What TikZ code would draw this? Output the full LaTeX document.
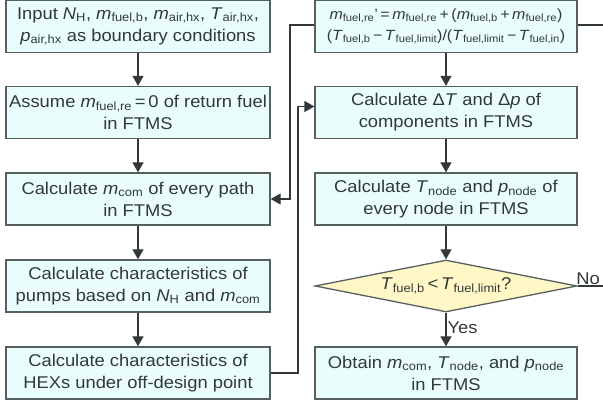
\documentclass[tikz,border=0pt]{standalone}
\usepackage{fontspec}
\setmainfont{Liberation Sans}[FakeStretch=1.08]
\usetikzlibrary{shapes.geometric,arrows.meta}

\definecolor{boxfill}{HTML}{EAFDFD}
\definecolor{decfill}{HTML}{FFF7C6}
\definecolor{edge}{HTML}{56605F}
\definecolor{ink}{HTML}{333838}
\newcommand{\vr}[2]{\textit{#1}\textsubscript{#2}}

\tikzset{
  stepbox/.style={draw=edge,line width=1.3pt,fill=boxfill,rectangle,minimum height=52pt,
    inner sep=0pt,align=center,text=ink,font=\fontsize{17}{22}\selectfont},
  decision/.style={draw=edge,line width=1.3pt,fill=decfill,diamond,aspect=5,inner sep=0pt,
    minimum width=262pt,minimum height=52pt,text=ink,font=\fontsize{17}{20}\selectfont},
  flow/.style={draw=ink,line width=1.3pt,-{Triangle[width=11pt,length=10pt]}},
  link/.style={draw=ink,line width=1.3pt},
  tag/.style={text=ink,font=\fontsize{17}{20}\selectfont,inner sep=1pt}
}

\begin{document}
\begin{tikzpicture}[x=1pt,y=-1pt]
\useasboundingbox (0,0) rectangle (603,403);
\node[stepbox,minimum width=264pt] (IN) at (138,26.5) {Input \vr{N}{H}, \vr{m}{fuel,b}, \vr{m}{air,hx}, \vr{T}{air,hx},\\\vr{p}{air,hx} as boundary conditions};
\node[stepbox,minimum width=264pt] (AS) at (138,112.5) {Assume \vr{m}{fuel,re}\,=\,0 of return fuel\\in FTMS};
\node[stepbox,minimum width=264pt] (MC) at (138,199) {Calculate \vr{m}{com} of every path\\in FTMS};
\node[stepbox,minimum width=264pt] (PU) at (138,286) {Calculate characteristics of\\pumps based on \vr{N}{H} and \vr{m}{com}};
\node[stepbox,minimum width=264pt] (HX) at (138,373) {Calculate characteristics of\\HEXs under off-design point};

\node[stepbox,minimum width=262pt,font=\fontsize{14.8}{21}\selectfont] (RE) at (446,26.5) {\vr{m}{fuel,re}’\,=\,\vr{m}{fuel,re}\,+\,(\vr{m}{fuel,b}\,+\,\vr{m}{fuel,re})\\(\vr{T}{fuel,b}\,−\,\vr{T}{fuel,limit})/(\vr{T}{fuel,limit}\,−\,\vr{T}{fuel,in})};
\node[stepbox,minimum width=262pt] (DT) at (446,112.5) {Calculate Δ\textit{T} and Δ\textit{p} of\\components in FTMS};
\node[stepbox,minimum width=262pt] (ND) at (446,199) {Calculate \vr{T}{node} and \vr{p}{node} of\\every node in FTMS};
\node[decision] (CK) at (446,286) {\vr{T}{fuel,b}\,<\,\vr{T}{fuel,limit}?};
\node[stepbox,minimum width=262pt] (OB) at (446,373) {Obtain \vr{m}{com}, \vr{T}{node}, and \vr{p}{node}\\in FTMS};

\coordinate (noend) at (603,286);
\coordinate (topend) at (603,25);

% main columns
\draw[flow] (IN) -- (AS);
\draw[flow] (AS) -- (MC);
\draw[flow] (MC) -- (PU);
\draw[flow] (PU) -- (HX);
\draw[flow] (RE) -- (DT);
\draw[flow] (DT) -- (ND);
\draw[flow] (ND) -- (CK);
\draw[flow] (CK) -- node[tag,right,pos=0.45] (YS) {Yes} (OB);

% loops
\draw[link] (CK.east) -- node[tag,above right,pos=0,xshift=-3pt] (NO) {No} (noend);
\draw[link] (RE.east |- topend) -- (topend);
\draw[flow] (RE.west |- topend) -- (290,25) |- (MC.east);
\draw[flow] (HX.east) -- (298,373) |- ([yshift=6pt]DT.west);
\end{tikzpicture}
\end{document}
